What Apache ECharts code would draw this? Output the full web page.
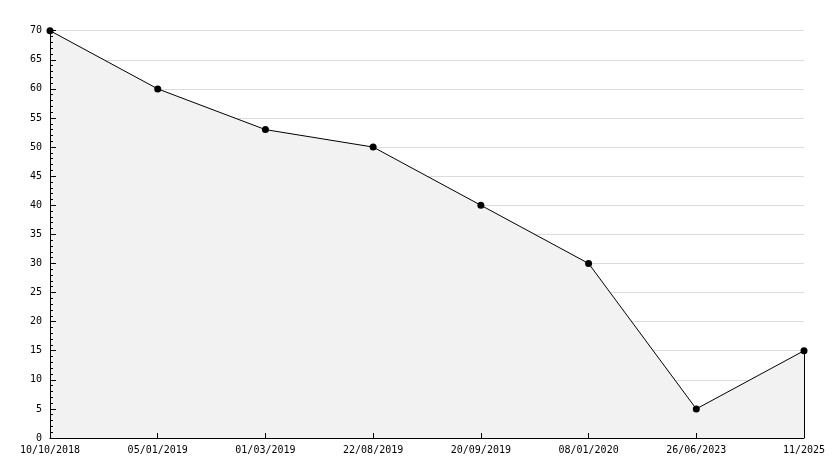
<!DOCTYPE html>
<html><head><meta charset="utf-8">
<script src="https://cdn.jsdelivr.net/npm/echarts@6/dist/echarts.min.js"></script>
<style>html,body{margin:0;padding:0;background:#fff}#c{width:834px;height:468px}</style>
</head><body><div id="c"></div>
<script>
var categories = ['10/10/2018','05/01/2019','01/03/2019','22/08/2019','20/09/2019','08/01/2020','26/06/2023','11/2025'];
var values = [70, 60, 53, 50, 40, 30, 5, 15];
var yMin = 0, yMax = 70, yStep = 5;

var chart = echarts.init(document.getElementById('c'), null, {renderer:'canvas'});
var font = {fontFamily:'DejaVu Sans Mono', fontSize:10, color:'#000'};
var last = categories.length - 1;
chart.setOption({
  animation:false,
  grid:{left:50, right:30, top:30.7, bottom:30, containLabel:false},
  xAxis:{
    type:'category', data:categories, boundaryGap:false, z:5,
    axisLine:{lineStyle:{color:'#000', width:1}},
    axisTick:{inside:true, length:5, lineStyle:{color:'#000'}, alignWithLabel:true},
    axisLabel:Object.assign({margin:7, interval:0}, font),
    splitLine:{show:false}
  },
  yAxis:[{
    type:'value', min:yMin, max:yMax, interval:yStep, z:0,
    axisLine:{show:false},
    axisTick:{show:false},
    axisLabel:Object.assign({margin:8}, font),
    splitLine:{show:true, lineStyle:{color:'#dcdcdc', width:1}}
  },{
    type:'value', min:yMin, max:yMax, interval:yStep, z:5, position:'left',
    axisLine:{show:true, lineStyle:{color:'#000', width:1}},
    axisTick:{show:true, inside:true, length:6, lineStyle:{color:'#000'}},
    minorTick:{show:true, splitNumber:5, length:3, lineStyle:{color:'#000'}},
    axisLabel:{show:false},
    splitLine:{show:false}
  }],
  series:[{
    type:'line', data:values, z:2, yAxisIndex:0,
    symbol:'circle', symbolSize:7,
    itemStyle:{color:'#000'},
    lineStyle:{color:'#000', width:1},
    areaStyle:{color:'#f2f2f2', opacity:1},
    markLine:{
      silent:true, symbol:'none', label:{show:false},
      lineStyle:{color:'#000', width:1, type:'solid'},
      data:[[{coord:[categories[last], values[last]]},{coord:[categories[last], yMin]}]]
    }
  }]
});
</script></body></html>
